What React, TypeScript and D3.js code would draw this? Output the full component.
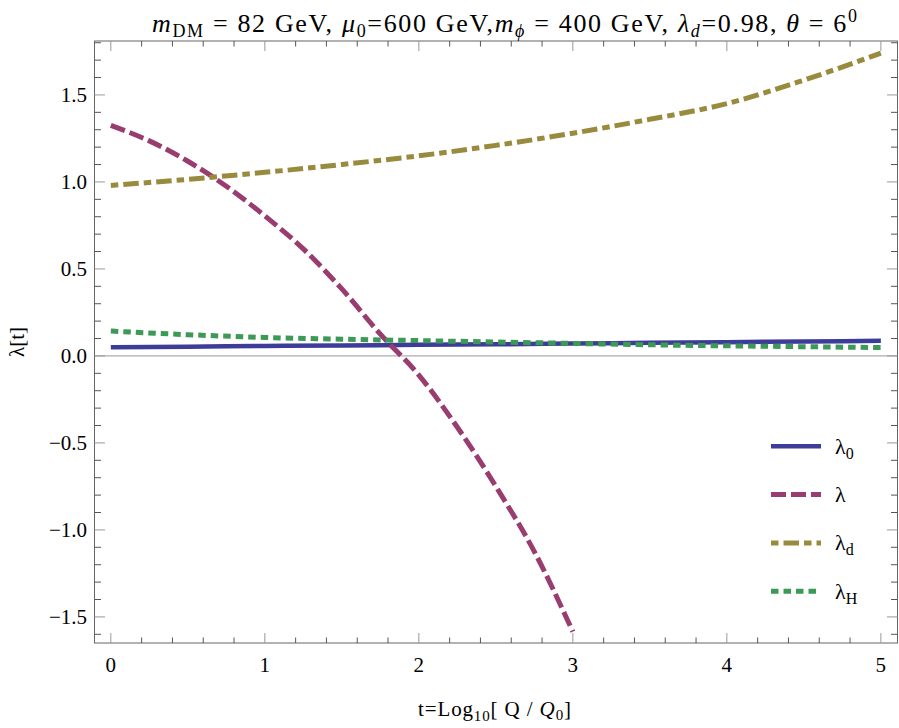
import React, { useEffect, useRef } from 'react';
import * as d3 from 'd3';

// values
const tSteps = [0, 0.5, 1, 1.5, 2, 2.5, 3, 3.5, 4, 4.5, 5];
const lambda0 = [0.05, 0.053, 0.057, 0.06, 0.064, 0.067, 0.071, 0.075, 0.079, 0.083, 0.087];
const lambdaD = [0.98, 1.015, 1.055, 1.1, 1.15, 1.21, 1.28, 1.36, 1.45, 1.585, 1.74];
const lambdaH = [0.143, 0.122, 0.106, 0.096, 0.088, 0.08, 0.072, 0.064, 0.058, 0.053, 0.048];

const tLambda = [0, 0.25, 0.5, 0.75, 1, 1.25, 1.5, 1.75, 2, 2.25, 2.5, 2.75, 3];
const lambdaQ = [1.325, 1.236, 1.119, 0.975, 0.805, 0.615, 0.385, 0.125, -0.11, -0.41, -0.75, -1.125, -1.585];

const xTicks = [0, 1, 2, 3, 4, 5];
const yTicks = [-1.5, -1.0, -0.5, 0.0, 0.5, 1.0, 1.5];
const legendSubs = ['0', '', 'd', 'H'];

const FONT = '"Liberation Serif", "Times New Roman", serif';

interface Series {
  xs: number[];
  ys: number[];
  color: string;
  dash: string | null;
  width: number;
  sub: string;
}

const App: React.FC = () => {
  const plotRef = useRef<SVGGElement>(null);

  useEffect(() => {
    if (!plotRef.current) return;
    const svg = d3.select(plotRef.current);
    svg.selectAll('*').remove();

    const left = 94.5, right = 897.5, top = 41, bottom = 643;
    const x = d3.scaleLinear().domain([-0.106, 5.108]).range([left, right]);
    const y = d3.scaleLinear().domain([-1.65, 1.81]).range([bottom, top]);

    const series: Series[] = [
      { xs: tSteps, ys: lambda0, color: '#3d3d99', dash: null, width: 4.5, sub: legendSubs[0] },
      { xs: tLambda, ys: lambdaQ, color: '#993d71', dash: '15,5', width: 5, sub: legendSubs[1] },
      { xs: tSteps, ys: lambdaD, color: '#998b3d', dash: '7.5,5,15.5,5', width: 5, sub: legendSubs[2] },
      { xs: tSteps, ys: lambdaH, color: '#3d9956', dash: '7.5,5', width: 5, sub: legendSubs[3] },
    ];

    svg.append('defs').append('clipPath').attr('id', 'plot-clip')
      .append('rect').attr('x', left).attr('y', top).attr('width', right - left).attr('height', bottom - top);

    // zero axis
    svg.append('line')
      .attr('x1', left).attr('x2', right).attr('y1', y(0)).attr('y2', y(0))
      .attr('stroke', '#999').attr('stroke-width', 1);

    const line = d3.line<[number, number]>()
      .x(d => x(d[0]))
      .y(d => y(d[1]))
      .curve(d3.curveMonotoneX);

    const curves = svg.append('g').attr('clip-path', 'url(#plot-clip)');
    series.forEach(s => {
      curves.append('path')
        .datum(s.xs.map((t, i) => [t, s.ys[i]] as [number, number]))
        .attr('fill', 'none')
        .attr('stroke', s.color)
        .attr('stroke-width', s.width)
        .attr('stroke-dasharray', s.dash)
        .attr('d', line);
    });

    // frame
    svg.append('rect')
      .attr('x', left).attr('y', top).attr('width', right - left).attr('height', bottom - top)
      .attr('fill', 'none').attr('stroke', '#666').attr('stroke-width', 1);

    // ticks on all four sides
    const ticks = svg.append('g');
    const xMinor = d3.range(0, 5.01, 0.2).filter(v => Math.abs(v - Math.round(v)) > 1e-6);
    const yMinor = d3.range(-1.6, 1.81, 0.1).filter(v => Math.abs(v * 2 - Math.round(v * 2)) > 1e-6);

    const xTick = (v: number, len: number, col: string) => {
      ticks.append('line').attr('x1', x(v)).attr('x2', x(v)).attr('y1', bottom).attr('y2', bottom - len)
        .attr('stroke', col).attr('stroke-width', 1);
      ticks.append('line').attr('x1', x(v)).attr('x2', x(v)).attr('y1', top).attr('y2', top + len)
        .attr('stroke', col).attr('stroke-width', 1);
    };
    const yTick = (v: number, len: number, col: string) => {
      ticks.append('line').attr('x1', left).attr('x2', left + len).attr('y1', y(v)).attr('y2', y(v))
        .attr('stroke', col).attr('stroke-width', 1);
      ticks.append('line').attr('x1', right).attr('x2', right - len).attr('y1', y(v)).attr('y2', y(v))
        .attr('stroke', col).attr('stroke-width', 1);
    };
    xTicks.forEach(v => xTick(v, 10, '#999'));
    xMinor.forEach(v => xTick(v, 5.5, '#555'));
    yTicks.forEach(v => yTick(v, 10.5, '#999'));
    yMinor.forEach(v => yTick(v, 6.5, '#555'));

    // tick labels
    svg.append('g').selectAll('text').data(xTicks).join('text')
      .attr('x', d => x(d)).attr('y', 672)
      .attr('text-anchor', 'middle')
      .attr('font-family', FONT).attr('font-size', 21)
      .text(d => String(d));

    svg.append('g').selectAll('text').data(yTicks).join('text')
      .attr('x', 87).attr('y', d => y(d) + 7.5)
      .attr('text-anchor', 'end')
      .attr('font-family', FONT).attr('font-size', 21)
      .text(d => (d < 0 ? '\u2212' : '') + Math.abs(d).toFixed(1));

    // legend
    const legend = svg.append('g');
    series.forEach((s, i) => {
      const ly = 446.3 + i * 48.3;
      legend.append('line')
        .attr('x1', 771).attr('x2', 821).attr('y1', ly).attr('y2', ly)
        .attr('stroke', s.color).attr('stroke-width', s.width)
        .attr('stroke-dasharray', s.dash);
      const txt = legend.append('text')
        .attr('x', 835).attr('y', ly + 7.5)
        .attr('font-family', FONT).attr('font-size', 22);
      txt.append('tspan').text('\u03bb');
      if (s.sub) txt.append('tspan').attr('dy', 5).attr('font-size', 16).text(s.sub);
    });
  }, []);

  const sub = { fontSize: 18 };
  const xsub = { fontSize: 15 };
  return (
    <svg
      width={899}
      height={728}
      style={{ position: 'absolute', left: 0, top: 0, background: '#fff' }}
    >
      <g ref={plotRef} />
      <g>
        <text x={152} y={32} textLength={705} lengthAdjust="spacing" fontFamily={FONT} fontSize={26}>
          <tspan fontStyle="italic">m</tspan>
          <tspan dy={5} style={sub}>DM</tspan>
          <tspan dy={-5}> = 82 GeV, </tspan>
          <tspan fontStyle="italic">{'\u03bc'}</tspan>
          <tspan dy={5} style={sub}>0</tspan>
          <tspan dy={-5}>=600 GeV,</tspan>
          <tspan fontStyle="italic">m</tspan>
          <tspan dy={5} style={sub} fontStyle="italic">{'\u03d5'}</tspan>
          <tspan dy={-5}> = 400 GeV, </tspan>
          <tspan fontStyle="italic">{'\u03bb'}</tspan>
          <tspan dy={5} style={sub} fontStyle="italic">d</tspan>
          <tspan dy={-5}>=0.98, </tspan>
          <tspan fontStyle="italic">{'\u03b8'}</tspan>
          <tspan> = 6</tspan>
          <tspan dy={-10} style={sub}>0</tspan>
        </text>
        <text x={418} y={716} textLength={153} lengthAdjust="spacing" fontFamily={FONT} fontSize={21}>
          <tspan>t=Log</tspan>
          <tspan dy={5} style={xsub}>10</tspan>
          <tspan dy={-5}>[ Q / </tspan>
          <tspan fontStyle="italic">Q</tspan>
          <tspan dy={4} style={xsub}>0</tspan>
          <tspan dy={-4}>]</tspan>
        </text>
        <text
          transform="translate(24,342) rotate(-90)"
          textAnchor="middle"
          fontFamily={FONT}
          fontSize={21}
        >
          {'\u03bb[t]'}
        </text>
      </g>
    </svg>
  );
};

export default App;
